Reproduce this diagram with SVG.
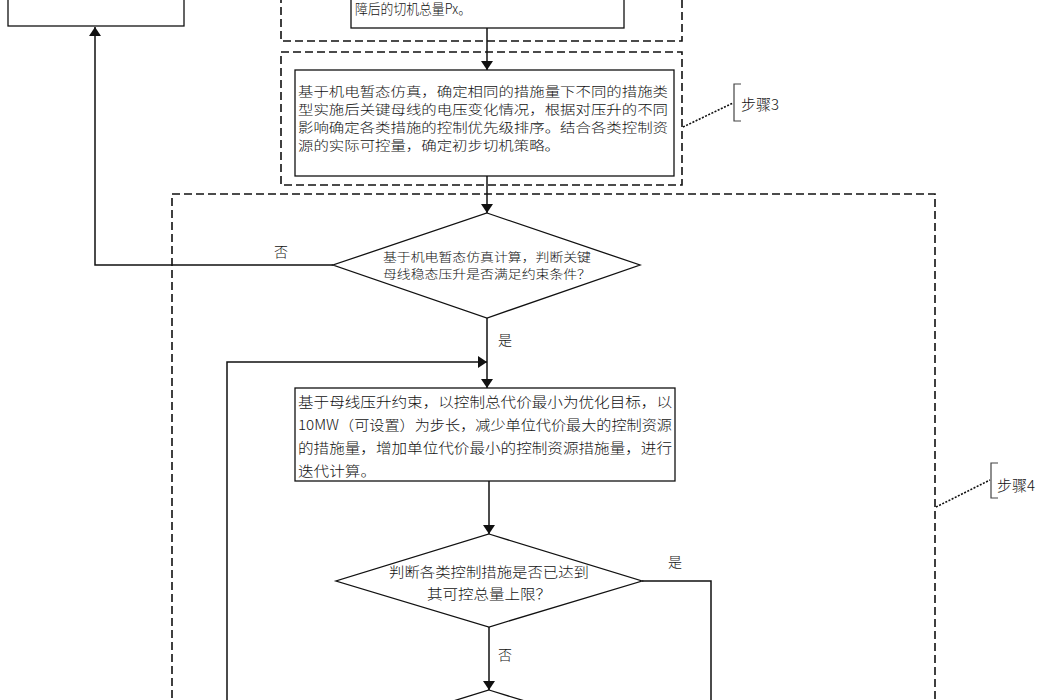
<svg xmlns="http://www.w3.org/2000/svg" width="1050" height="700" viewBox="0 0 1050 700">
<defs>
<style>
.box{fill:#fff;stroke:#111;stroke-width:1.3}
.dash{fill:none;stroke:#111;stroke-width:1.6;stroke-dasharray:8,4}
.ln{fill:none;stroke:#111;stroke-width:1.5}
.dot{fill:none;stroke:#111;stroke-width:1.6;stroke-dasharray:2,1.5}
.t{font-family:"Noto Sans CJK SC","Noto Sans",sans-serif;font-weight:300;fill:#111}
.tc{font-family:"Noto Sans CJK SC","Noto Sans",sans-serif;font-weight:300;fill:#111;text-anchor:middle}
</style>
<marker id="ah2" viewBox="0 0 10 10" refX="10" refY="5" markerWidth="9" markerHeight="12" markerUnits="userSpaceOnUse" orient="auto" preserveAspectRatio="none">
<path d="M0,0 L10,5 L0,10 z" fill="#111"/>
</marker>
</defs>
<rect width="1050" height="700" fill="#fff"/>

<g id="step-frames">
<path class="dash" d="M281,-5 V41 H682 V-5"/>
<rect class="dash" x="281" y="52" width="401" height="133"/>
<path class="dash" d="M172,710 V194 H935 V710"/>
</g>

<g id="step3-label">
<path class="dot" d="M683,127 L733,103"/>
<path fill="none" stroke="#444" stroke-width="1.2" d="M741,84 H734 V121 H741"/>
<text class="t" x="741" y="110" font-size="15">步骤3</text>
</g>
<g id="step4-label">
<path class="dot" d="M936,507 L990,480"/>
<path fill="none" stroke="#444" stroke-width="1.2" d="M998,463 H991 V498 H998"/>
<text class="t" x="997" y="491" font-size="15">步骤4</text>
</g>

<g id="node-topleft">
<rect class="box" x="8" y="-10" width="176" height="36"/>
</g>

<g id="node-step2">
<rect class="box" x="351" y="-20" width="273" height="48"/>
<text class="t" x="355" y="14" font-size="14" textLength="116" lengthAdjust="spacingAndGlyphs">障后的切机总量Px。</text>
</g>

<g id="node-step3">
<rect class="box" x="295" y="70" width="379" height="106"/>
<text class="t" x="298" y="96" font-size="13" textLength="370" lengthAdjust="spacingAndGlyphs">基于机电暂态仿真，确定相同的措施量下不同的措施类</text>
<text class="t" x="298" y="114" font-size="13" textLength="370" lengthAdjust="spacingAndGlyphs">型实施后关键母线的电压变化情况，根据对压升的不同</text>
<text class="t" x="298" y="132" font-size="13" textLength="370" lengthAdjust="spacingAndGlyphs">影响确定各类措施的控制优先级排序。结合各类控制资</text>
<text class="t" x="298" y="150" font-size="13" textLength="262" lengthAdjust="spacingAndGlyphs">源的实际可控量，确定初步切机策略。</text>
</g>

<g id="node-decision1">
<polygon class="box" points="487,213 640,265 487,318 333,265"/>
<text class="tc" x="487" y="262" font-size="12" textLength="208" lengthAdjust="spacingAndGlyphs">基于机电暂态仿真计算，判断关键</text>
<text class="tc" x="487" y="279" font-size="12" textLength="208" lengthAdjust="spacingAndGlyphs">母线稳态压升是否满足约束条件？</text>
</g>

<g id="node-optimize">
<rect class="box" x="295" y="388" width="380" height="93"/>
<text class="t" x="298" y="407" font-size="14" textLength="374" lengthAdjust="spacingAndGlyphs">基于母线压升约束，以控制总代价最小为优化目标，以</text>
<text class="t" x="298" y="430" font-size="14" textLength="374" lengthAdjust="spacingAndGlyphs">10MW（可设置）为步长，减少单位代价最大的控制资源</text>
<text class="t" x="298" y="453" font-size="14" textLength="374" lengthAdjust="spacingAndGlyphs">的措施量，增加单位代价最小的控制资源措施量，进行</text>
<text class="t" x="298" y="476" font-size="14" textLength="78" lengthAdjust="spacingAndGlyphs">迭代计算。</text>
</g>

<g id="node-decision2">
<polygon class="box" points="489,534 642,581 489,627 336,581"/>
<text class="tc" x="489" y="577" font-size="14" textLength="200" lengthAdjust="spacingAndGlyphs">判断各类控制措施是否已达到</text>
<text class="tc" x="489" y="599" font-size="14" textLength="124" lengthAdjust="spacingAndGlyphs">其可控总量上限？</text>
</g>

<g id="node-decision3">
<polygon class="box" points="489,690 642,737 489,783 336,737"/>
</g>

<g id="connectors">
<path class="ln" d="M487,28 V70" marker-end="url(#ah2)"/>
<path class="ln" d="M487,176 V213" marker-end="url(#ah2)"/>
<path class="ln" d="M333,265 H95 V27" marker-end="url(#ah2)"/>
<path class="ln" d="M487,318 V388" marker-end="url(#ah2)"/>
<path class="ln" stroke="#444" d="M227,710 V362 H487" marker-end="url(#ah2)"/>
<path class="ln" d="M489,481 V534" marker-end="url(#ah2)"/>
<path class="ln" d="M642,581 H711 V710"/>
<path class="ln" d="M489,627 V690" marker-end="url(#ah2)"/>
<text class="t" x="274" y="257" font-size="14">否</text>
<text class="t" x="498" y="345" font-size="14">是</text>
<text class="t" x="668" y="567" font-size="14">是</text>
<text class="t" x="498" y="660" font-size="14">否</text>
</g>
</svg>
